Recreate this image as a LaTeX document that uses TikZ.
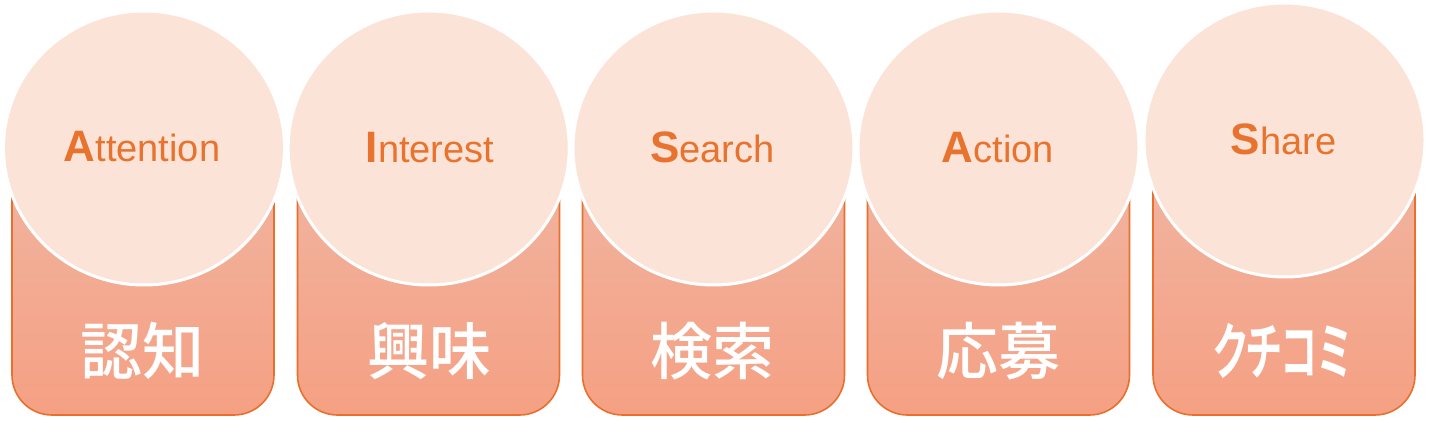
\documentclass[tikz,border=0pt]{standalone}
\usepackage{fontspec}
\usepackage{graphicx}
\setmainfont{Liberation Sans}
\newfontfamily\jpfont{Noto Sans CJK JP Medium}
\newfontfamily\jpkana{Noto Sans CJK JP Bold}[RawFeature=+palt]
\usetikzlibrary{shapes.geometric}
\definecolor{orangeline}{HTML}{E8702C}
\definecolor{orangetext}{HTML}{E8732F}
\definecolor{peach}{HTML}{FCE3D7}
\definecolor{boxtop}{HTML}{F0B6A3}
\definecolor{boxbot}{HTML}{F5A083}
\tikzset{
  stagebox/.style={rectangle, rounded corners=40pt, minimum width=262pt, minimum height=275pt,
    draw=orangeline, line width=1.6pt, top color=boxtop, bottom color=boxbot, inner sep=0pt},
  stagecircle/.style={ellipse, minimum width=281pt, minimum height=274pt, inner sep=0pt,
    fill=peach, draw=white, line width=3pt},
  entext/.style={anchor=base, text=orangetext, inner sep=0pt},
  jptext/.style={text=white, inner sep=0pt, font=\jpfont\fontsize{62}{62}\selectfont}
}
\begin{document}
\begin{tikzpicture}[x=1pt,y=-1pt]
\useasboundingbox (0,0) rectangle (1429,435);
% boxes
\foreach \i/\cx in {1/143,2/428.5,3/713.5,4/998.5,5/1284}{
  \node[stagebox] (box\i) at (\cx,277.5) {};
}
% circles
\foreach \i/\cx/\cy in {1/144/148,2/428.7/148,3/713.5/148,4/998.5/148,5/1284.5/140}{
  \node[stagecircle] (circ\i) at (\cx,\cy) {};
}
% English labels
\node[entext] (en1) at (142,162) {{\bfseries\fontsize{44}{44}\selectfont A}{\fontsize{38}{38}\selectfont ttention}};
\node[entext] (en2) at (430,162.5) {{\bfseries\fontsize{44}{44}\selectfont I}{\fontsize{38}{38}\selectfont nterest}};
\node[entext] (en3) at (712.5,162.5) {{\bfseries\fontsize{44}{44}\selectfont S}{\fontsize{38}{38}\selectfont earch}};
\node[entext] (en4) at (998,162.5) {{\bfseries\fontsize{44}{44}\selectfont A}{\fontsize{38}{38}\selectfont ction}};
\node[entext] (en5) at (1283.5,155) {{\bfseries\fontsize{44}{44}\selectfont S}{\fontsize{38}{38}\selectfont hare}};
% Japanese labels
\node[jptext] (jp1) at (142.5,351) {認知};
\node[jptext] (jp2) at (429,351) {興味};
\node[jptext] (jp3) at (712,351) {検索};
\node[jptext] (jp4) at (998.5,351) {応募};
\node[jptext] (jp5) at (1282.5,351) {\scalebox{0.6}[1]{\jpkana クチコミ}};
\end{tikzpicture}
\end{document}
